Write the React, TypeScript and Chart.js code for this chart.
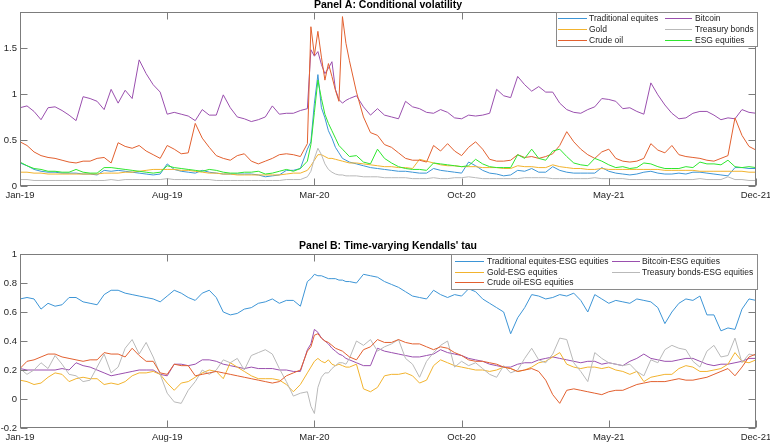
import { useEffect, useRef } from 'react';
import { Chart, registerables } from 'chart.js';

Chart.register(...registerables);

// sample index (3 samples per month; extra half-steps around Mar-20)
const sampleIdx = [
  0, 1, 2, 3, 4, 5, 6, 7, 8, 9,
  10, 11, 12, 13, 14, 15, 16, 17, 18, 19,
  20, 21, 22, 23, 24, 25, 26, 27, 28, 29,
  30, 31, 32, 33, 34, 35, 36, 37, 38, 39,
  40, 41, 41.5, 42, 42.5, 43, 43.5, 44, 44.5, 45, 45.5, 46, 46.5,
  47, 48, 49, 50, 51, 52, 53, 54, 55, 56,
  57, 58, 59, 60, 61, 62, 63, 64, 65, 66,
  67, 68, 69, 70, 71, 72, 73, 74, 75, 76,
  77, 78, 79, 80, 81, 82, 83, 84, 85, 86,
  87, 88, 89, 90, 91, 92, 93, 94, 95, 96,
  97, 98, 99, 100, 101, 102, 103, 104, 105,
];
const xTickPos = [0, 21, 42, 63, 84, 105];
const xTickLabels = ['Jan-19', 'Aug-19', 'Mar-20', 'Oct-20', 'May-21', 'Dec-21'];

const yTicksA = [0, 0.5, 1, 1.5];
const yTickLabelsA = ['0', '0.5', '1', '1.5'];
const yTicksB = [-0.2, 0, 0.2, 0.4, 0.6, 0.8, 1];
const yTickLabelsB = ['-0.2', '0', '0.2', '0.4', '0.6', '0.8', '1'];

// Panel A: conditional volatility
const volTraditional = [
  0.25, 0.22, 0.18, 0.16, 0.15, 0.15, 0.14, 0.14, 0.14, 0.13,
  0.13, 0.12, 0.17, 0.16, 0.17, 0.16, 0.15, 0.14, 0.13, 0.12,
  0.13, 0.24, 0.18, 0.16, 0.15, 0.14, 0.17, 0.15, 0.14, 0.13,
  0.13, 0.13, 0.13, 0.13, 0.12, 0.10, 0.11, 0.12, 0.17, 0.17,
  0.19, 0.40, 0.48, 0.90, 1.21, 0.85, 0.74, 0.60, 0.52, 0.42, 0.36, 0.30, 0.28,
  0.26, 0.24, 0.22, 0.20, 0.19, 0.18, 0.17, 0.16, 0.16, 0.15,
  0.14, 0.14, 0.19, 0.17, 0.16, 0.15, 0.14, 0.26, 0.22, 0.17,
  0.14, 0.13, 0.11, 0.12, 0.17, 0.16, 0.19, 0.15, 0.15, 0.21,
  0.17, 0.15, 0.14, 0.14, 0.14, 0.14, 0.20, 0.16, 0.14, 0.13,
  0.12, 0.13, 0.15, 0.16, 0.14, 0.13, 0.13, 0.14, 0.13, 0.15,
  0.15, 0.14, 0.13, 0.12, 0.11, 0.20, 0.20, 0.19, 0.19,
];
const volBitcoin = [
  0.85, 0.87, 0.81, 0.72, 0.85, 0.86, 0.82, 0.77, 0.71, 0.97,
  0.95, 0.92, 0.83, 1.05, 0.90, 1.04, 0.95, 1.37, 1.22, 1.10,
  1.02, 0.78, 0.80, 0.78, 0.76, 0.71, 0.83, 0.77, 0.77, 0.99,
  0.85, 0.75, 0.73, 0.70, 0.72, 0.75, 0.87, 0.78, 0.79, 0.79,
  0.82, 0.84, 1.48, 1.41, 1.46, 1.32, 1.22, 1.28, 1.35, 1.05, 0.94, 0.90, 0.93,
  0.95, 0.98, 0.86, 0.77, 0.84, 0.77, 0.75, 0.73, 0.92, 0.86,
  0.84, 0.80, 0.79, 0.83, 0.80, 0.74, 0.73, 0.77, 0.76, 0.77,
  0.79, 1.05, 0.98, 0.96, 1.19, 1.10, 1.03, 1.08, 1.02, 1.02,
  0.90, 0.83, 0.80, 0.79, 0.83, 0.86, 0.95, 0.94, 0.92, 0.84,
  0.85, 0.81, 0.78, 1.12, 0.99, 0.88, 0.79, 0.73, 0.74, 0.79,
  0.81, 0.81, 0.77, 0.72, 0.74, 0.73, 0.83, 0.80, 0.79,
];
const volGold = [
  0.15, 0.15, 0.14, 0.14, 0.13, 0.13, 0.13, 0.13, 0.13, 0.13,
  0.13, 0.13, 0.14, 0.14, 0.14, 0.15, 0.15, 0.16, 0.17, 0.18,
  0.18, 0.18, 0.18, 0.17, 0.17, 0.16, 0.15, 0.14, 0.14, 0.13,
  0.13, 0.12, 0.12, 0.12, 0.12, 0.12, 0.12, 0.12, 0.13, 0.14,
  0.14, 0.17, 0.22, 0.28, 0.34, 0.34, 0.32, 0.30, 0.30, 0.29, 0.28, 0.27, 0.26,
  0.25, 0.25, 0.24, 0.23, 0.22, 0.21, 0.21, 0.20, 0.20, 0.19,
  0.29, 0.27, 0.25, 0.23, 0.22, 0.22, 0.21, 0.21, 0.21, 0.20,
  0.20, 0.20, 0.19, 0.19, 0.22, 0.21, 0.21, 0.20, 0.20, 0.23,
  0.21, 0.20, 0.19, 0.19, 0.18, 0.18, 0.19, 0.18, 0.18, 0.18,
  0.18, 0.18, 0.18, 0.18, 0.18, 0.17, 0.17, 0.17, 0.17, 0.17,
  0.16, 0.16, 0.16, 0.16, 0.16, 0.16, 0.16, 0.15, 0.15,
];
const volTreasury = [
  0.07, 0.07, 0.06, 0.06, 0.06, 0.06, 0.06, 0.06, 0.06, 0.06,
  0.06, 0.06, 0.06, 0.07, 0.06, 0.07, 0.07, 0.07, 0.07, 0.07,
  0.07, 0.08, 0.07, 0.07, 0.07, 0.07, 0.07, 0.07, 0.06, 0.06,
  0.06, 0.06, 0.06, 0.06, 0.06, 0.06, 0.06, 0.06, 0.07, 0.07,
  0.07, 0.10, 0.16, 0.30, 0.41, 0.34, 0.24, 0.18, 0.15, 0.13, 0.12, 0.12, 0.11,
  0.11, 0.11, 0.10, 0.10, 0.10, 0.09, 0.09, 0.09, 0.09, 0.08,
  0.08, 0.08, 0.09, 0.08, 0.08, 0.09, 0.09, 0.10, 0.09, 0.08,
  0.08, 0.08, 0.08, 0.08, 0.08, 0.09, 0.09, 0.09, 0.09, 0.08,
  0.08, 0.08, 0.08, 0.08, 0.08, 0.09, 0.08, 0.08, 0.08, 0.08,
  0.07, 0.07, 0.07, 0.07, 0.07, 0.07, 0.07, 0.07, 0.07, 0.07,
  0.08, 0.07, 0.07, 0.07, 0.10, 0.07, 0.07, 0.06, 0.06,
];
const volCrudeOil = [
  0.48, 0.44, 0.37, 0.33, 0.31, 0.30, 0.28, 0.26, 0.25, 0.27,
  0.27, 0.30, 0.31, 0.25, 0.47, 0.43, 0.41, 0.44, 0.38, 0.34,
  0.30, 0.44, 0.40, 0.35, 0.36, 0.68, 0.52, 0.42, 0.33, 0.30,
  0.28, 0.33, 0.35, 0.27, 0.24, 0.27, 0.30, 0.34, 0.35, 0.34,
  0.32, 0.46, 1.73, 1.42, 1.68, 1.40, 1.15, 1.33, 1.19, 1.04, 0.92, 1.84, 1.55,
  1.36, 1.02, 0.75, 0.58, 0.55, 0.45, 0.42, 0.36, 0.30, 0.28,
  0.28, 0.26, 0.44, 0.38, 0.46, 0.38, 0.33, 0.42, 0.48, 0.40,
  0.29, 0.27, 0.27, 0.28, 0.34, 0.31, 0.32, 0.30, 0.32, 0.35,
  0.44, 0.59, 0.48, 0.40, 0.34, 0.30, 0.37, 0.40, 0.30, 0.27,
  0.26, 0.27, 0.30, 0.46, 0.39, 0.36, 0.44, 0.34, 0.32, 0.31,
  0.30, 0.28, 0.27, 0.30, 0.33, 0.74, 0.55, 0.43, 0.39,
];
const volESG = [
  0.26, 0.22, 0.19, 0.18, 0.16, 0.16, 0.15, 0.15, 0.18, 0.15,
  0.14, 0.14, 0.20, 0.20, 0.19, 0.18, 0.17, 0.16, 0.15, 0.14,
  0.15, 0.22, 0.20, 0.19, 0.18, 0.17, 0.16, 0.18, 0.17, 0.15,
  0.14, 0.14, 0.15, 0.15, 0.16, 0.13, 0.14, 0.16, 0.18, 0.16,
  0.19, 0.27, 0.45, 0.80, 1.15, 0.95, 0.78, 0.68, 0.60, 0.52, 0.44, 0.40, 0.36,
  0.32, 0.33, 0.26, 0.24, 0.40, 0.30, 0.25, 0.21, 0.19, 0.18,
  0.18, 0.17, 0.25, 0.24, 0.23, 0.22, 0.21, 0.22, 0.29, 0.24,
  0.21, 0.20, 0.20, 0.20, 0.34, 0.30, 0.40, 0.30, 0.28, 0.38,
  0.40, 0.32, 0.25, 0.23, 0.22, 0.30, 0.27, 0.23, 0.20, 0.21,
  0.19, 0.20, 0.25, 0.24, 0.21, 0.19, 0.19, 0.19, 0.21, 0.20,
  0.26, 0.24, 0.24, 0.23, 0.28, 0.21, 0.20, 0.21, 0.20,
];

// Panel B: time-varying Kendall's tau
const tauTraditional = [
  0.69, 0.70, 0.69, 0.62, 0.66, 0.64, 0.65, 0.70, 0.70, 0.67,
  0.66, 0.65, 0.72, 0.75, 0.75, 0.73, 0.72, 0.71, 0.70, 0.69,
  0.67, 0.71, 0.75, 0.73, 0.70, 0.68, 0.73, 0.75, 0.70, 0.60,
  0.58, 0.59, 0.62, 0.63, 0.66, 0.67, 0.69, 0.66, 0.68, 0.68,
  0.64, 0.81, 0.83, 0.86, 0.85, 0.85, 0.84, 0.83, 0.83, 0.83, 0.82, 0.82, 0.81,
  0.81, 0.80, 0.86, 0.85, 0.84, 0.81, 0.79, 0.77, 0.74, 0.71,
  0.70, 0.69, 0.75, 0.72, 0.70, 0.72, 0.71, 0.76, 0.74, 0.69,
  0.66, 0.63, 0.60, 0.45, 0.56, 0.63, 0.72, 0.71, 0.69, 0.70,
  0.72, 0.71, 0.73, 0.68, 0.60, 0.72, 0.69, 0.66, 0.68, 0.67,
  0.66, 0.69, 0.68, 0.67, 0.63, 0.52, 0.60, 0.66, 0.69, 0.68,
  0.71, 0.58, 0.58, 0.47, 0.49, 0.48, 0.62, 0.69, 0.68,
];
const tauBitcoin = [
  0.21, 0.20, 0.20, 0.20, 0.20, 0.20, 0.21, 0.20, 0.25, 0.23,
  0.22, 0.20, 0.18, 0.16, 0.17, 0.18, 0.19, 0.20, 0.20, 0.20,
  0.17, 0.16, 0.24, 0.24, 0.23, 0.24, 0.27, 0.27, 0.26, 0.24,
  0.23, 0.22, 0.21, 0.22, 0.21, 0.21, 0.21, 0.20, 0.20, 0.19,
  0.19, 0.34, 0.38, 0.48, 0.46, 0.42, 0.40, 0.38, 0.35, 0.33, 0.31, 0.30, 0.28,
  0.27, 0.25, 0.23, 0.23, 0.35, 0.33, 0.32, 0.31, 0.30, 0.29,
  0.29, 0.30, 0.31, 0.34, 0.32, 0.31, 0.30, 0.28, 0.27, 0.26,
  0.24, 0.23, 0.22, 0.22, 0.24, 0.25, 0.25, 0.27, 0.28, 0.29,
  0.28, 0.27, 0.26, 0.25, 0.26, 0.26, 0.24, 0.25, 0.24, 0.23,
  0.26, 0.28, 0.31, 0.28, 0.27, 0.26, 0.26, 0.27, 0.28, 0.28,
  0.26, 0.24, 0.23, 0.24, 0.24, 0.25, 0.26, 0.28, 0.28,
];
const tauGold = [
  0.13, 0.12, 0.10, 0.11, 0.15, 0.18, 0.17, 0.12, 0.14, 0.15,
  0.14, 0.14, 0.10, 0.11, 0.10, 0.12, 0.16, 0.18, 0.18, 0.19,
  0.17, 0.11, 0.06, 0.11, 0.12, 0.15, 0.18, 0.20, 0.19, 0.14,
  0.25, 0.22, 0.19, 0.16, 0.14, 0.14, 0.14, 0.13, 0.10, 0.05,
  0.10, 0.18, 0.22, 0.26, 0.28, 0.26, 0.25, 0.27, 0.24, 0.23, 0.24, 0.23, 0.22,
  0.22, 0.24, 0.07, 0.05, 0.08, 0.16, 0.17, 0.17, 0.18, 0.16,
  0.11, 0.13, 0.23, 0.27, 0.25, 0.23, 0.22, 0.21, 0.20, 0.20,
  0.19, 0.20, 0.22, 0.21, 0.19, 0.20, 0.22, 0.25, 0.26, 0.29,
  0.32, 0.24, 0.22, 0.21, 0.22, 0.22, 0.21, 0.22, 0.20, 0.19,
  0.17, 0.19, 0.12, 0.15, 0.16, 0.17, 0.17, 0.21, 0.23, 0.22,
  0.19, 0.19, 0.20, 0.21, 0.24, 0.32, 0.26, 0.25, 0.27,
];
const tauTreasury = [
  0.21, 0.17, 0.20, 0.25, 0.21, 0.30, 0.24, 0.17, 0.16, 0.12,
  0.13, 0.22, 0.31, 0.18, 0.22, 0.35, 0.41, 0.31, 0.39, 0.29,
  0.17, 0.04, -0.02, -0.03, 0.06, 0.12, 0.20, 0.17, 0.20, 0.27,
  0.25, 0.28, 0.20, 0.30, 0.32, 0.34, 0.31, 0.21, 0.12, 0.02,
  0.04, 0.05, -0.05, -0.10, 0.08, 0.15, 0.18, 0.18, 0.21, 0.23, 0.25, 0.25, 0.24,
  0.28, 0.40, 0.37, 0.41, 0.33, 0.36, 0.38, 0.41, 0.28, 0.24,
  0.15, 0.26, 0.32, 0.37, 0.40, 0.22, 0.26, 0.23, 0.25, 0.21,
  0.17, 0.15, 0.23, 0.18, 0.20, 0.28, 0.35, 0.27, 0.25, 0.31,
  0.42, 0.41, 0.25, 0.19, 0.12, 0.32, 0.28, 0.25, 0.24, 0.23,
  0.24, 0.19, 0.16, 0.27, 0.25, 0.34, 0.37, 0.35, 0.34, 0.26,
  0.22, 0.33, 0.37, 0.29, 0.30, 0.42, 0.25, 0.31, 0.30,
];
const tauCrudeOil = [
  0.21, 0.26, 0.27, 0.29, 0.31, 0.31, 0.29, 0.28, 0.27, 0.26,
  0.27, 0.27, 0.32, 0.31, 0.31, 0.29, 0.35, 0.30, 0.26, 0.26,
  0.18, 0.17, 0.24, 0.23, 0.23, 0.16, 0.17, 0.18, 0.19, 0.18,
  0.17, 0.16, 0.15, 0.14, 0.13, 0.12, 0.11, 0.12, 0.16, 0.18,
  0.20, 0.33, 0.36, 0.44, 0.45, 0.42, 0.40, 0.39, 0.37, 0.35, 0.34, 0.33, 0.31,
  0.29, 0.27, 0.34, 0.36, 0.41, 0.39, 0.39, 0.41, 0.39, 0.38,
  0.38, 0.36, 0.34, 0.36, 0.35, 0.32, 0.30, 0.27, 0.26, 0.26,
  0.25, 0.24, 0.22, 0.21, 0.19, 0.20, 0.21, 0.19, 0.13, 0.03,
  -0.03, 0.06, 0.07, 0.06, 0.05, 0.04, 0.03, 0.05, 0.06, 0.06,
  0.08, 0.10, 0.11, 0.12, 0.12, 0.12, 0.13, 0.14, 0.13, 0.13,
  0.14, 0.15, 0.17, 0.19, 0.21, 0.16, 0.22, 0.29, 0.31,
];

const C_BLUE = '#3d95d6';
const C_PURPLE = '#9a4fae';
const C_GOLD = '#f2b32e';
const C_GRAY = '#b9b9b9';
const C_ORANGE = '#e2602f';
const C_GREEN = '#2ee62e';

const FONT = '"Liberation Sans", Arial, Helvetica, sans-serif';

type Series = { label: string; values: number[]; color: string };

const seriesA: Series[] = [
  { label: 'Traditional equites', values: volTraditional, color: C_BLUE },
  { label: 'Bitcoin', values: volBitcoin, color: C_PURPLE },
  { label: 'Gold', values: volGold, color: C_GOLD },
  { label: 'Treasury bonds', values: volTreasury, color: C_GRAY },
  { label: 'Crude oil', values: volCrudeOil, color: C_ORANGE },
  { label: 'ESG equities', values: volESG, color: C_GREEN },
];
const seriesB: Series[] = [
  { label: 'Traditional equites-ESG equities', values: tauTraditional, color: C_BLUE },
  { label: 'Bitcoin-ESG equities', values: tauBitcoin, color: C_PURPLE },
  { label: 'Gold-ESG equities', values: tauGold, color: C_GOLD },
  { label: 'Treasury bonds-ESG equities', values: tauTreasury, color: C_GRAY },
  { label: 'Crude oil-ESG equities', values: tauCrudeOil, color: C_ORANGE },
];

type LegendLayout = {
  box: [number, number, number, number];
  rows: number[];
  cols: { l0: number; l1: number; tx: number }[];
  fontSize: number;
};

const framePlugin = {
  id: 'frame',
  afterDatasetsDraw(chart: any, _args: any, opts: any) {
    const { ctx, chartArea: a } = chart;
    const xs = chart.scales.x;
    const ys = chart.scales.y;
    ctx.save();
    const L = Math.round(a.left) + 0.5;
    const R = Math.round(a.right) - 0.5;
    const T = Math.round(a.top) + 0.5;
    const B = Math.round(a.bottom) - 0.5;
    ctx.strokeStyle = '#7c7c7c';
    ctx.lineWidth = 1;
    ctx.strokeRect(L, T, R - L, B - T);
    const tl = 7;
    ctx.beginPath();
    for (const v of xTickPos) {
      const px = Math.round(xs.getPixelForValue(v)) + 0.5;
      ctx.moveTo(px, B); ctx.lineTo(px, B - tl);
      ctx.moveTo(px, T); ctx.lineTo(px, T + tl);
    }
    for (const v of opts.yTicks as number[]) {
      const py = Math.round(ys.getPixelForValue(v)) + 0.5;
      ctx.moveTo(L, py); ctx.lineTo(L + tl, py);
      ctx.moveTo(R, py); ctx.lineTo(R - tl, py);
    }
    ctx.stroke();

    // title
    ctx.fillStyle = '#000';
    ctx.font = `bold 10.5px ${FONT}`;
    ctx.textAlign = 'center';
    ctx.textBaseline = 'middle';
    ctx.fillText(opts.title, (a.left + a.right) / 2, a.top - opts.titleGap);

    // legend
    const lg: LegendLayout = opts.legend;
    const [bx, by, bw, bh] = lg.box;
    ctx.fillStyle = '#fff';
    ctx.fillRect(bx, by, bw, bh);
    ctx.strokeStyle = '#8a8a8a';
    ctx.strokeRect(bx + 0.5, by + 0.5, bw, bh);
    ctx.font = `${lg.fontSize}px ${FONT}`;
    ctx.textAlign = 'left';
    ctx.textBaseline = 'middle';
    const items: Series[] = opts.series;
    items.forEach((s, k) => {
      const row = Math.floor(k / 2);
      const col = lg.cols[k % 2];
      const y = lg.rows[row];
      ctx.strokeStyle = s.color;
      ctx.beginPath();
      ctx.moveTo(col.l0, Math.round(y) + 0.5);
      ctx.lineTo(col.l1, Math.round(y) + 0.5);
      ctx.stroke();
      ctx.fillStyle = '#1a1a1a';
      ctx.fillText(s.label, col.tx, y + 0.5);
    });
    ctx.restore();
  },
};

function makeConfig(
  series: Series[],
  yMin: number,
  yMax: number,
  yTicks: number[],
  yLabels: string[],
  padTop: number,
  xAxisH: number,
  title: string,
  titleGap: number,
  legend: LegendLayout,
): any {
  const n = series.length;
  return {
    type: 'line',
    data: {
      datasets: series.map((s, k) => ({
        label: s.label,
        data: sampleIdx.map((t, j) => ({ x: t, y: s.values[j] })),
        borderColor: s.color,
        backgroundColor: s.color,
        borderWidth: 1,
        pointRadius: 0,
        tension: 0,
        fill: false,
        order: n - k,
      })),
    },
    options: {
      animation: false,
      responsive: false,
      maintainAspectRatio: false,
      devicePixelRatio: 1,
      events: [],
      layout: { padding: { top: padTop, right: 14, bottom: 0, left: 0 } },
      plugins: {
        legend: { display: false },
        tooltip: { enabled: false },
        title: { display: false },
        frame: { title, titleGap, legend, series, yTicks },
      },
      scales: {
        x: {
          type: 'linear',
          min: 0,
          max: 105,
          grid: { display: false, drawTicks: false },
          border: { display: false },
          afterBuildTicks: (s: any) => {
            s.ticks = xTickPos.map((v) => ({ value: v }));
          },
          afterFit: (s: any) => {
            s.height = xAxisH;
            s.paddingLeft = 0;
            s.paddingRight = 0;
          },
          ticks: {
            autoSkip: false,
            maxRotation: 0,
            minRotation: 0,
            padding: 4,
            color: '#262626',
            font: { family: FONT, size: 9.5 },
            callback: (_v: any, i: number) => xTickLabels[i],
          },
        },
        y: {
          type: 'linear',
          min: yMin,
          max: yMax,
          grid: { display: false, drawTicks: false },
          border: { display: false },
          afterBuildTicks: (s: any) => {
            s.ticks = yTicks.map((v) => ({ value: v }));
          },
          afterFit: (s: any) => {
            s.width = 20;
            s.paddingTop = 0;
            s.paddingBottom = 0;
          },
          ticks: {
            autoSkip: false,
            padding: 3,
            color: '#262626',
            font: { family: FONT, size: 9.5 },
            callback: (_v: any, i: number) => yLabels[i],
          },
        },
      },
    },
    plugins: [framePlugin],
  };
}

function Panel(props: { top: number; height: number; config: () => any }) {
  const ref = useRef<HTMLCanvasElement | null>(null);
  useEffect(() => {
    if (!ref.current) return;
    const chart = new Chart(ref.current, props.config());
    return () => chart.destroy();
  }, []);
  return (
    <canvas
      ref={ref}
      width={770}
      height={props.height}
      style={{ position: 'absolute', left: 0, top: props.top, width: 770, height: props.height }}
    />
  );
}

export default function App() {
  const legendA: LegendLayout = {
    box: [556, 12, 201, 34],
    rows: [18.3, 29, 40],
    cols: [
      { l0: 558, l1: 587, tx: 589 },
      { l0: 665, l1: 692, tx: 695 },
    ],
    fontSize: 8.5,
  };
  const legendB: LegendLayout = {
    box: [451, 39, 306, 35],
    rows: [46.3, 57.3, 67.3],
    cols: [
      { l0: 455, l1: 484, tx: 487 },
      { l0: 612, l1: 640, tx: 642 },
    ],
    fontSize: 8.5,
  };
  return (
    <div style={{ position: 'absolute', left: 0, top: 0, width: 770, height: 443, background: '#fff', overflow: 'hidden' }}>
      <Panel
        top={0}
        height={215}
        config={() =>
          makeConfig(seriesA, 0, 1.89, yTicksA, yTickLabelsA, 12, 29, 'Panel A: Conditional volatility', 6.5, legendA)
        }
      />
      <Panel
        top={215}
        height={228}
        config={() =>
          makeConfig(seriesB, -0.2, 1, yTicksB, yTickLabelsB, 39, 15, "Panel B: Time-varying Kendalls' tau", 7.5, legendB)
        }
      />
    </div>
  );
}
